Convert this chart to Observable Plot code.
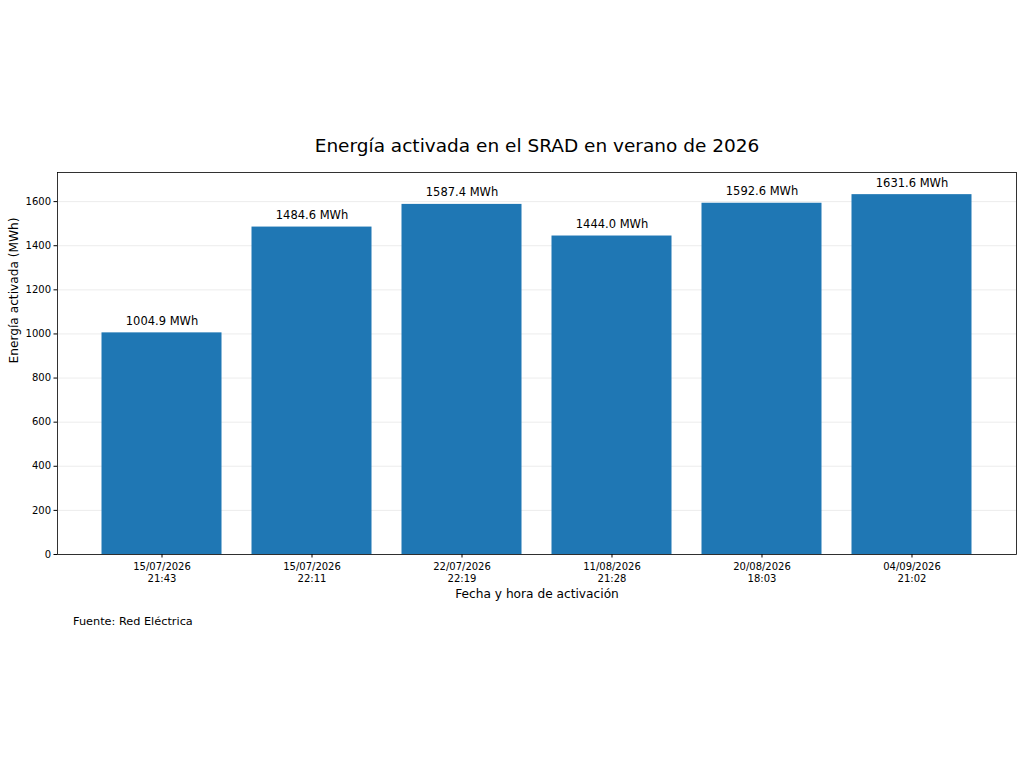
<!DOCTYPE html>
<html><head><meta charset="utf-8">
<script src="https://cdn.jsdelivr.net/npm/d3@7"></script>
<script src="https://cdn.jsdelivr.net/npm/@observablehq/plot@0.6"></script>
<style>
body{margin:0;background:#fff;font-family:"DejaVu Sans",sans-serif;}
#wrap{position:relative;width:1024px;height:768px;overflow:hidden;}
#title{position:absolute;top:135px;left:57px;width:960px;text-align:center;font-size:18.5px;color:#000;}
#chart{position:absolute;top:0;left:0;}
#caption{position:absolute;top:615px;left:73px;font-size:11.3px;color:#000;}
</style></head><body>
<div id="wrap">
<div id="chart"></div>
<div id="title">Energía activada en el SRAD en verano de 2026</div>
<div id="caption">Fuente: Red Eléctrica</div>
</div>
<script>
const fechas = ["15/07/2026\n21:43","15/07/2026\n22:11","22/07/2026\n22:19","11/08/2026\n21:28","20/08/2026\n18:03","04/09/2026\n21:02"];
const energia = [1004.9,1484.6,1587.4,1444.0,1592.6,1631.6];
const yTicks = [0,200,400,600,800,1000,1200,1400,1600];

const data = fechas.map((f,i)=>({fecha:f, valor:energia[i], label:energia[i].toFixed(1)+" MWh"}));

const chart = Plot.plot({
  width:1024, height:768,
  marginLeft:57, marginRight:8, marginTop:172, marginBottom:214,
  style:{fontFamily:"DejaVu Sans, sans-serif", fontSize:"10px", color:"#000", background:"transparent"},
  x:{domain:fechas, paddingInner:0.2, paddingOuter:0.2967, round:false, label:null},
  y:{domain:[0,1732], label:null},
  marks:[
    Plot.gridY(yTicks,{stroke:"#b0b0b0", strokeOpacity:0.3, strokeWidth:0.8}),
    Plot.barY(data,{x:"fecha", y:"valor", fill:"#1f77b4"}),
    Plot.text(data,{x:"fecha", y:"valor", text:"label", lineAnchor:"bottom", dy:-8, fontSize:11.5, fill:"#000"}),
    Plot.axisY(yTicks,{tickSize:3.5, tickPadding:3, tickFormat:d=>String(d), label:null, stroke:"#000"}),
    Plot.axisX({tickSize:3.5, tickPadding:3.5, label:null, stroke:"#000", lineAnchor:"top", lineHeight:1.2}),
    Plot.text(["Energía activada (MWh)"],{frameAnchor:"left", dx:-43, rotate:-90, fontSize:12.2, fill:"#000"}),
    Plot.text(["Fecha y hora de activación"],{frameAnchor:"bottom", dy:43, fontSize:12.2, fill:"#000"}),
    Plot.frame({stroke:"#000", strokeWidth:0.8})
  ]
});
document.getElementById("chart").appendChild(chart);
</script>
</body></html>
